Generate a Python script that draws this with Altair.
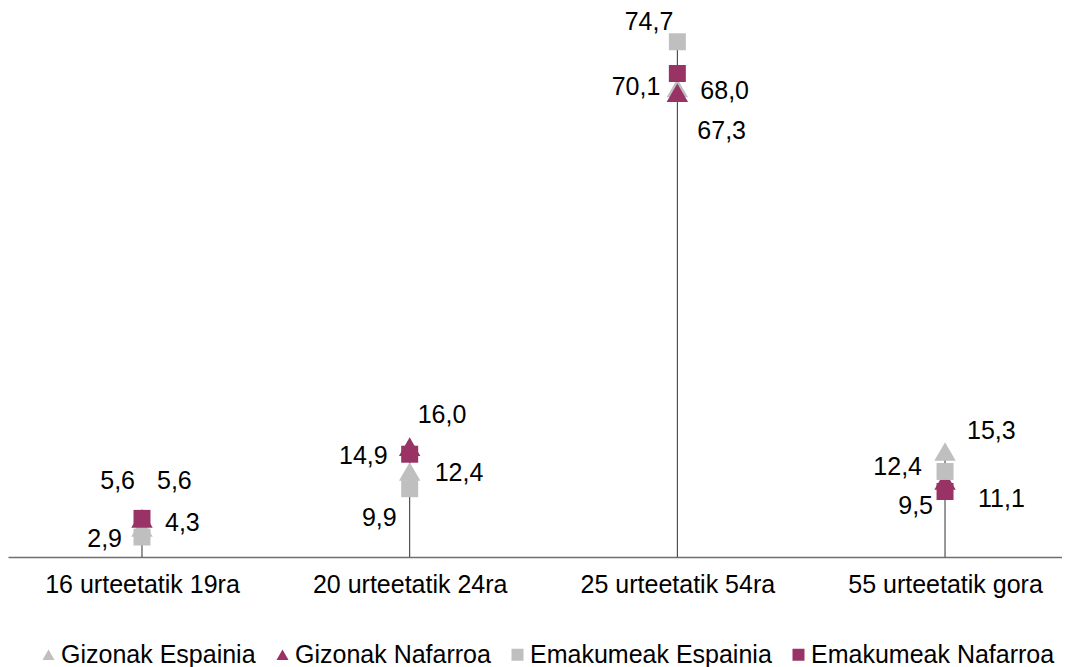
import altair as alt
import pandas as pd

# ---- data ----
categories = ["16 urteetatik 19ra", "20 urteetatik 24ra", "25 urteetatik 54ra", "55 urteetatik gora"]
series_names = ["Gizonak Espainia", "Gizonak Nafarroa", "Emakumeak Espainia", "Emakumeak Nafarroa"]
gizonak_espainia = [4.3, 12.4, 68.0, 15.3]
gizonak_nafarroa = [5.6, 16.0, 67.3, 11.1]
emakumeak_espainia = [2.9, 9.9, 74.7, 12.4]
emakumeak_nafarroa = [5.6, 14.9, 70.1, 9.5]

# ---- styles ----
colors = ["#BFBFBF", "#993366", "#BFBFBF", "#993366"]
shapes = ["triangle-up", "triangle-up", "square", "square"]
FONT = "Liberation Sans"
FS = 25

# label placement per series, per category: (align, dx, dy) in pixels
label_pos = {
    "Gizonak Espainia":   [("left", 23, -4), ("left", 25, 2), ("left", 23, 3), ("left", 22, -20)],
    "Gizonak Nafarroa":   [("left", 15, -37), ("left", 8, -32), ("left", 20, 38), ("left", 33, 19)],
    "Emakumeak Espainia": [("right", -20, 2), ("right", -13, 29), ("right", -4, -20), ("right", -23, -4)],
    "Emakumeak Nafarroa": [("right", -7, -37), ("right", -22, 2), ("right", -17, 14), ("right", -12, 15)],
}

all_series = [gizonak_espainia, gizonak_nafarroa, emakumeak_espainia, emakumeak_nafarroa]
rows = []
for name, vals in zip(series_names, all_series):
    for i, v in enumerate(vals):
        rows.append({"idx": i, "category": categories[i], "series": name, "value": v})
df = pd.DataFrame(rows)

W, H = 1054, 538
xscale = alt.Scale(domain=[-0.5006, 3.437], nice=False, zero=False)
yscale = alt.Scale(domain=[0, 78], nice=False)

label_expr = "[" + ",".join("'" + c + "'" for c in categories) + "][datum.value]"

x_axis = alt.Axis(
    values=[0, 1, 2, 3], labelExpr=label_expr, title=None, ticks=False, grid=False,
    labelFontSize=FS, labelFont=FONT, labelColor="#000000", labelPadding=15,
    labelLimit=400, labelFlush=False, labelOverlap=False,
    domainColor="#6F6F6F", domainWidth=1.5)


def x_enc():
    return alt.X("idx:Q", scale=xscale, axis=x_axis)


base = alt.Chart(df)

drop = base.transform_aggregate(
    maxv="max(value)", groupby=["idx"]
).transform_calculate(zero="0").mark_rule(color="#303030", strokeWidth=1).encode(
    x=x_enc(),
    y=alt.Y("maxv:Q", scale=yscale, axis=None),
    y2="zero:Q",
)

color_enc = alt.Color("series:N", scale=alt.Scale(domain=series_names, range=colors),
                      legend=alt.Legend(
                          orient="none", legendX=28, legendY=623, direction="horizontal",
                          title=None, labelFontSize=FS, labelFont=FONT, labelColor="#000000",
                          symbolSize=144, labelOffset=0, columnPadding=14, padding=0,
                          symbolStrokeWidth=0, labelLimit=0))
shape_enc = alt.Shape("series:N", scale=alt.Scale(domain=series_names, range=shapes))

tri = base.transform_filter(
    alt.FieldOneOfPredicate(field="series", oneOf=series_names[:2])
).mark_point(filled=True, opacity=1, size=460, strokeWidth=0).encode(
    x=x_enc(),
    y=alt.Y("value:Q", scale=yscale, axis=None),
    color=color_enc, shape=shape_enc,
)
sq = base.transform_filter(
    alt.FieldOneOfPredicate(field="series", oneOf=series_names[2:])
).mark_point(filled=True, opacity=1, size=289, strokeWidth=0).encode(
    x=x_enc(),
    y=alt.Y("value:Q", scale=yscale, axis=None),
    color=color_enc, shape=shape_enc,
)

text_layers = []
for name in series_names:
    for i in range(len(categories)):
        align, dx, dy = label_pos[name][i]
        t = base.transform_filter(
            (alt.datum.series == name) & (alt.datum.idx == i)
        ).transform_calculate(
            label="replace(format(datum.value, '.1f'), '.', ',')"
        ).mark_text(align=align, baseline="middle", dx=dx, dy=dy, fontSize=FS,
                    font=FONT, color="#000000").encode(
            x=x_enc(),
            y=alt.Y("value:Q", scale=yscale, axis=None),
            text="label:N",
        )
        text_layers.append(t)

chart = alt.layer(drop, tri, sq, *text_layers).properties(
    width=W, height=H,
    padding={"left": 0, "top": 11, "right": 0, "bottom": 110},
    autosize=alt.AutoSizeParams(type="none"),
).configure(font=FONT).configure_view(strokeWidth=0, strokeOpacity=0)

chart.save("out.html", embed_options={"renderer": "svg", "actions": False})
